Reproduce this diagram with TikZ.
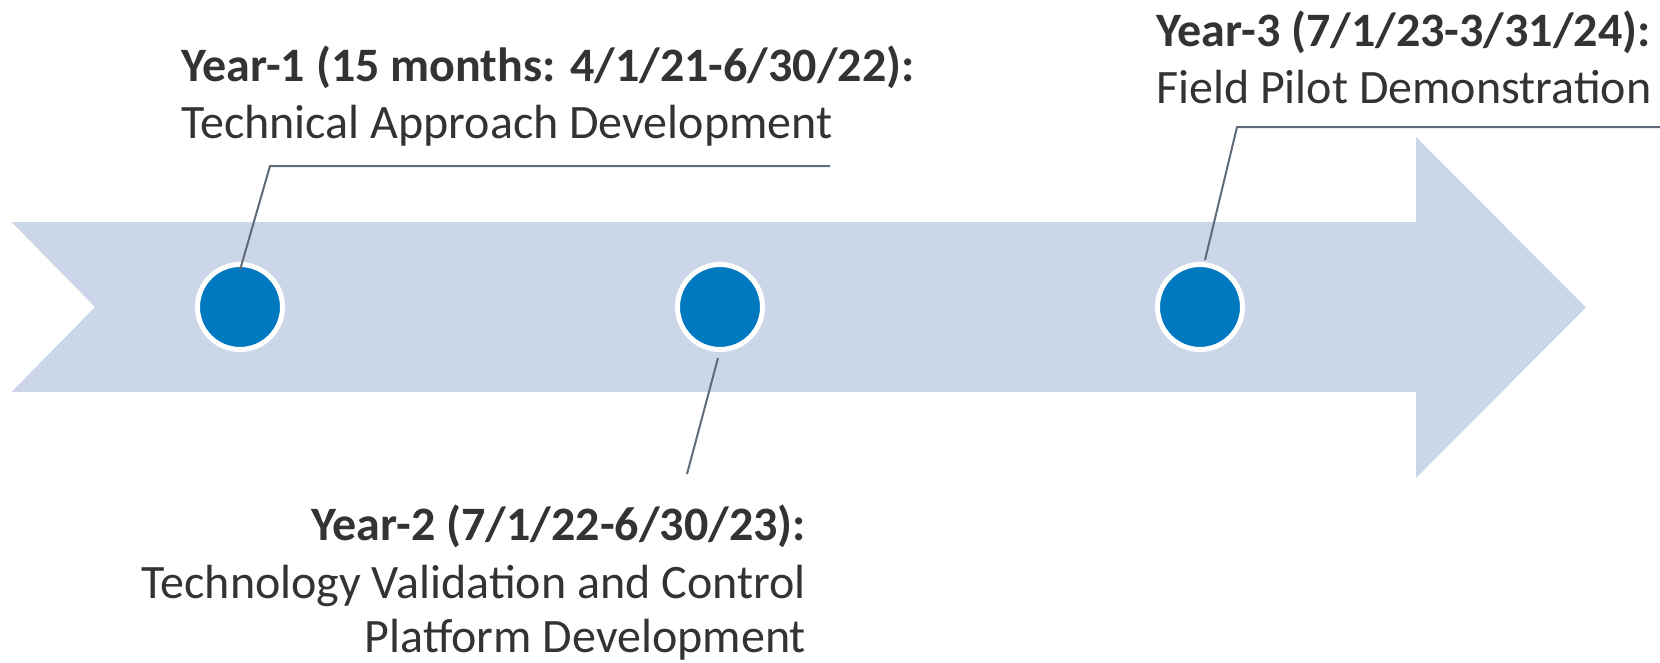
\documentclass[tikz,border=0pt]{standalone}
\usepackage{fontspec}
\setmainfont{Carlito}
\definecolor{band}{HTML}{CBD7E8}
\definecolor{dot}{HTML}{0079C1}
\definecolor{txt}{HTML}{333333}
\definecolor{lead}{HTML}{5F6B78}
\begin{document}
\begin{tikzpicture}[x=1pt,y=-1pt,
  lbl/.style={inner sep=0pt, text=txt, font=\fontsize{48}{57}\selectfont},
  boldlbl/.style={inner sep=0pt, text=txt, font=\fontsize{48}{57}\selectfont\bfseries},
  dotnode/.style={circle, fill=dot, draw=white, line width=5pt, minimum size=85pt, inner sep=0pt},
  leader/.style={draw=lead, line width=2pt}]
\useasboundingbox (0,0) rectangle (1660,662);
\fill[band] (11.5,222) -- (1416,222) -- (1416,137) -- (1586,307.5) -- (1416,478) -- (1416,392) -- (11.5,392) -- (95,307) -- cycle;
\node[dotnode] (c1) at (240,307) {};
\node[dotnode] (c2) at (720,307) {};
\node[dotnode] (c3) at (1200,307) {};
\coordinate (k1) at (270,166);
\coordinate (e1) at (830,166);
\coordinate (k2) at (687,474);
\coordinate (k3) at (1237,127);
\coordinate (e3) at (1660,127);
\draw[leader] ([yshift=37pt]c1.center) -- (k1) -- (e1);
\draw[leader] ([shift={(-2pt,-51pt)}]c2.center) -- (k2);
\draw[leader] ([shift={(5pt,47pt)}]c3.center) -- (k3) -- (e3);
\node[boldlbl, anchor=base west] (y1a) at (181,81) {Year-1 (15 months: 4/1/21-6/30/22):};
\node[lbl, anchor=base west] (y1b) at (181,138) {Technical Approach Development};
\node[boldlbl, anchor=base west] (y3a) at (1156,46) {Year-3 (7/1/23-3/31/24):};
\node[lbl, anchor=base west] (y3b) at (1156,103) {Field Pilot Demonstration};
\node[boldlbl, anchor=base east] (y2a) at (806,540) {Year-2 (7/1/22-6/30/23):};
\node[lbl, anchor=base east] (y2b) at (806,598) {Technology Validation and Control};
\node[lbl, anchor=base east] (y2c) at (806,652) {Platform Development};
\end{tikzpicture}
\end{document}
